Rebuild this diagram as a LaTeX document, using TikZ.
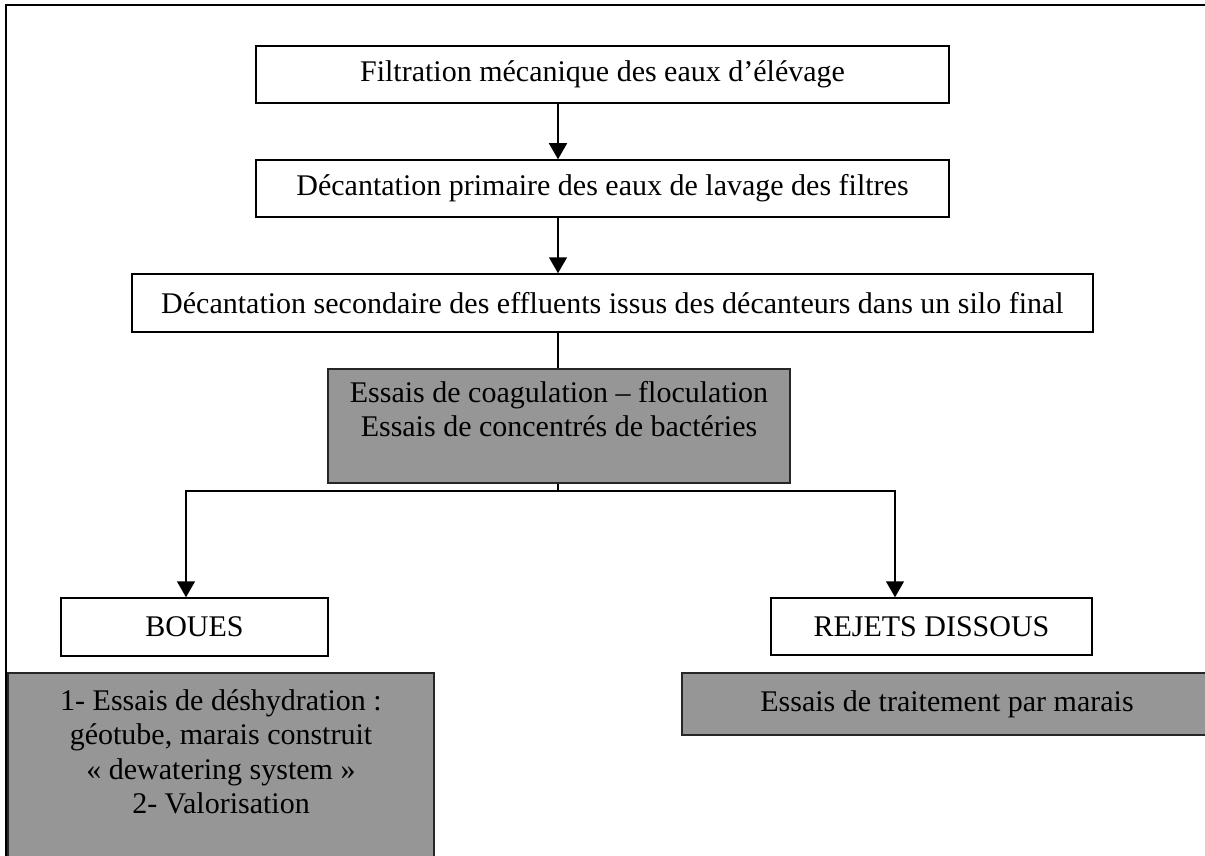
\documentclass[tikz,border=0pt]{standalone}
\usepackage{fontspec}
\setmainfont{Liberation Serif}
\usetikzlibrary{arrows.meta}
\definecolor{boxgray}{RGB}{150,150,150}
\begin{document}
\begin{tikzpicture}[x=0.5pt,y=-0.5pt,
  every node/.style={font=\fontsize{15pt}{17.25pt}\selectfont, inner sep=0pt, align=center},
  boxwh/.style 2 args={minimum width=#1*0.5pt, minimum height=#2*0.5pt},
  plainbox/.style={draw=black, line width=0.75pt, fill=white},
  graybox/.style={draw=black!85, line width=0.75pt, fill=boxgray},
  conn/.style={draw=black, line width=0.75pt},
  arr/.style={conn, -{Triangle[width=9pt,length=8pt]}},
  frameline/.style={draw=black, line width=1.1pt}]
\useasboundingbox (0,0) rectangle (1205,856);
\clip (0,0) rectangle (1205,856);
% outer frame (top and left edges only)
\draw[frameline] (1205,5) -- (6,5) -- (6,856);
% boxes
\node[plainbox, boxwh={693}{57}] (b1) at (602.5,74.5) {Filtration mécanique des eaux d’élévage};
\node[plainbox, boxwh={693}{57}] (b2) at (602.5,188.5) {Décantation primaire des eaux de lavage des filtres};
\node[plainbox, boxwh={961}{58}] (b3) at (612.5,303) {Décantation secondaire des effluents issus des décanteurs dans un silo final};
\node[graybox, boxwh={462}{114}] (b4) at (559,426) {Essais de coagulation – floculation\\Essais de concentrés de bactéries\\\mbox{}};
\node[plainbox, boxwh={267}{58}] (boues) at (194.5,627) {BOUES};
\node[plainbox, boxwh={321}{57}] (rejets) at (931.5,626.5) {REJETS DISSOUS};
\node[graybox, boxwh={426}{192}] (gl) at (221,769) {1- Essais de déshydration :\\géotube, marais construit\\« dewatering system »\\2- Valorisation\\\mbox{}};
\node[graybox, boxwh={530}{62}] (gr) at (947,704) {Essais de traitement par marais};
% connectors
\coordinate (sx) at (558,0);
\coordinate (j) at (558,491);
\coordinate (la) at (186,491);
\coordinate (ra) at (895,491);
\draw[arr] (b1.south -| sx) -- (b2.north -| sx);
\draw[arr] (b2.south -| sx) -- (b3.north -| sx);
\draw[conn] (b3.south -| sx) -- (b4.north -| sx);
\draw[conn] (b4.south -| sx) -- (j);
\draw[arr] (j) -- (la) -- (la |- boues.north);
\draw[arr] (j) -- (ra) -- (ra |- rejets.north);
\end{tikzpicture}
\end{document}
